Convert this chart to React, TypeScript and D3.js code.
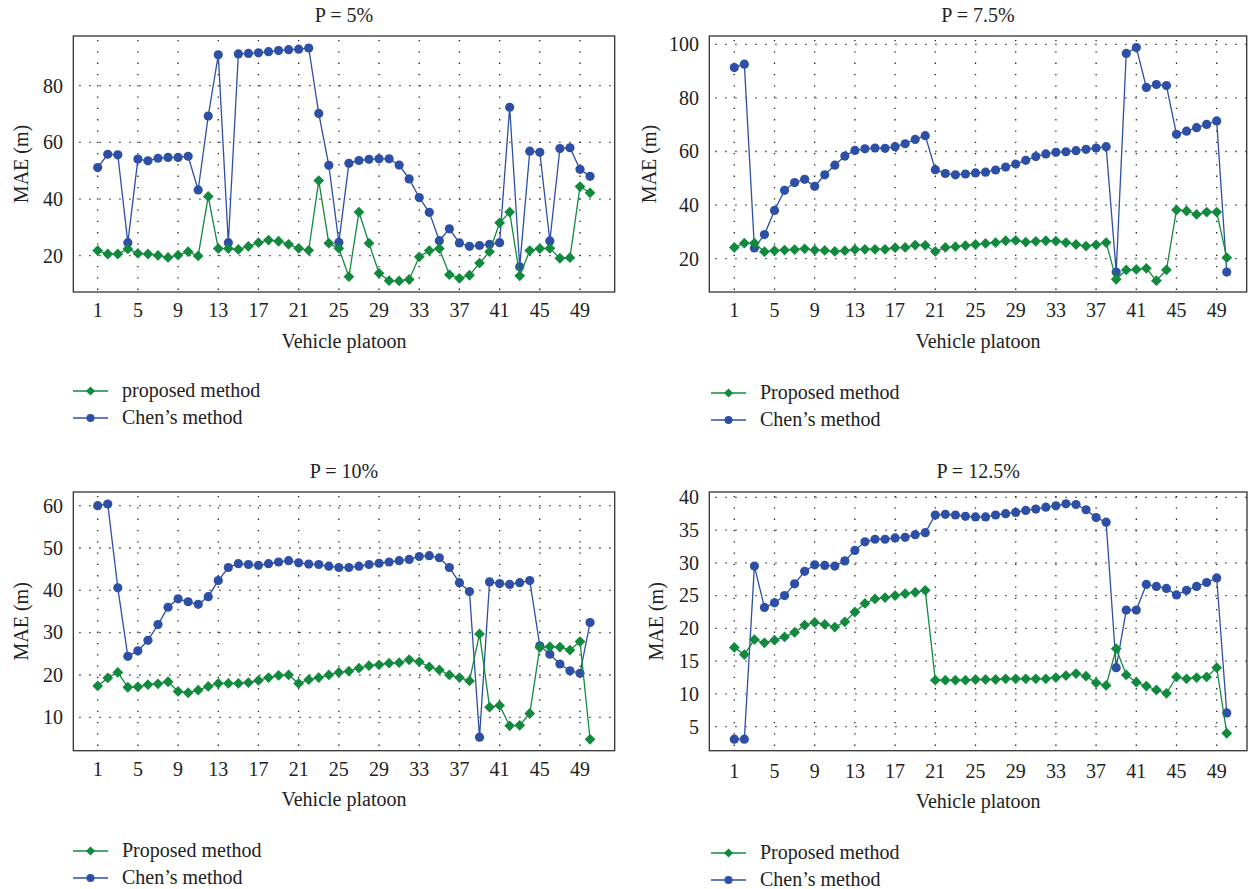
import React from 'react';
import * as d3 from 'd3';

// vehicles 1..50 in every panel
const vehicles = d3.range(1, 51);
const xTickValues = [1, 5, 9, 13, 17, 21, 25, 29, 33, 37, 41, 45, 49];

// P = 5%
const proposed5 = [21.8, 20.6, 20.6, 22.4, 20.8, 20.6, 20.1, 19.4, 20.2, 21.4,
  19.9, 40.9, 22.5, 22.5, 22.2, 23.3, 24.6, 25.5, 25.1, 24.0,
  22.6, 21.9, 46.5, 24.4, 22.6, 12.6, 35.4, 24.4, 13.8, 11.2,
  11.1, 11.6, 19.6, 21.8, 22.5, 13.3, 12.0, 13.1, 17.4, 21.4,
  31.6, 35.4, 12.9, 21.8, 22.5, 22.6, 19.1, 19.3, 44.4, 42.2];
const chen5 = [51.1, 55.8, 55.6, 24.6, 54.1, 53.5, 54.4, 54.7, 54.7, 55.1,
  43.2, 69.3, 90.9, 24.6, 91.2, 91.4, 91.6, 92.0, 92.4, 92.7,
  92.9, 93.3, 70.2, 51.9, 24.7, 52.6, 53.6, 54.0, 54.2, 54.2,
  52.0, 47.1, 40.5, 35.3, 25.3, 29.5, 24.5, 23.3, 23.6, 24.0,
  24.6, 72.4, 16.1, 56.9, 56.5, 25.2, 57.8, 58.1, 50.5, 48.0];

// P = 7.5%
const proposed75 = [24.2, 25.8, 25.8, 22.6, 23.0, 23.2, 23.4, 23.7, 23.2, 23.1,
  22.7, 23.0, 23.4, 23.5, 23.5, 23.5, 24.1, 24.2, 25.1, 25.0,
  22.7, 24.2, 24.5, 24.9, 25.3, 25.7, 26.0, 26.7, 26.8, 26.2,
  26.5, 26.7, 26.6, 26.0, 25.3, 24.7, 25.2, 26.0, 12.3, 15.8,
  16.0, 16.4, 11.8, 15.8, 38.2, 37.8, 36.5, 37.4, 37.4, 20.4];
const chen75 = [91.3, 92.6, 24.0, 29.0, 38.0, 45.5, 48.4, 49.6, 47.0, 51.3,
  54.9, 58.3, 60.4, 61.0, 61.3, 61.2, 61.8, 62.9, 64.5, 65.9,
  53.2, 51.8, 51.3, 51.6, 52.0, 52.3, 53.1, 54.2, 55.3, 56.7,
  58.1, 59.1, 59.7, 59.9, 60.3, 60.8, 61.3, 61.8, 15.0, 96.6,
  98.8, 83.9, 85.0, 84.6, 66.4, 67.6, 68.9, 70.1, 71.4, 15.0];

// P = 10%
const proposed10 = [17.4, 19.3, 20.6, 17.1, 17.2, 17.7, 17.9, 18.4, 16.1, 15.8,
  16.4, 17.3, 18.0, 18.0, 18.0, 18.2, 18.7, 19.4, 19.9, 20.0,
  18.0, 18.9, 19.4, 20.0, 20.6, 20.9, 21.6, 22.2, 22.4, 22.8,
  22.9, 23.6, 23.1, 21.9, 21.2, 20.0, 19.4, 18.6, 29.7, 12.4,
  12.8, 8.0, 8.1, 10.9, 26.5, 26.7, 26.6, 25.9, 27.9, 4.8];
const chen10 = [60.0, 60.4, 40.6, 24.4, 25.7, 28.2, 31.9, 36.0, 38.0, 37.3,
  36.7, 38.5, 42.3, 45.4, 46.3, 46.1, 45.9, 46.3, 46.7, 47.0,
  46.5, 46.2, 46.1, 45.7, 45.4, 45.4, 45.7, 46.1, 46.4, 46.7,
  47.0, 47.3, 48.0, 48.2, 47.7, 45.4, 41.8, 39.7, 5.3, 42.0,
  41.6, 41.4, 41.8, 42.3, 26.9, 24.9, 22.6, 21.0, 20.4, 32.4];

// P = 12.5%
const proposed125 = [17.1, 16.0, 18.3, 17.8, 18.2, 18.7, 19.4, 20.5, 20.9, 20.6,
  20.2, 21.0, 22.5, 23.8, 24.5, 24.7, 25.0, 25.3, 25.5, 25.8,
  12.1, 12.1, 12.1, 12.1, 12.2, 12.2, 12.2, 12.3, 12.3, 12.3,
  12.3, 12.3, 12.5, 12.8, 13.1, 12.7, 11.7, 11.3, 16.9, 12.9,
  11.8, 11.2, 10.6, 10.1, 12.6, 12.3, 12.5, 12.6, 14.0, 4.0];
const chen125 = [3.1, 3.1, 29.5, 23.2, 23.9, 25.0, 26.8, 28.7, 29.7, 29.6,
  29.5, 30.3, 31.9, 33.2, 33.6, 33.6, 33.8, 33.9, 34.3, 34.6,
  37.3, 37.4, 37.3, 37.1, 37.0, 37.0, 37.3, 37.5, 37.7, 38.0,
  38.2, 38.5, 38.7, 39.0, 38.9, 38.1, 36.9, 36.2, 14.0, 22.8,
  22.8, 26.7, 26.4, 26.1, 25.1, 25.8, 26.4, 27.0, 27.7, 7.1];

const GREEN = '#128a3e';
const BLUE = '#2e4fa6';
const FONT = '"Liberation Serif", "DejaVu Serif", serif';

const diamond = d3.symbol(d3.symbolSquare, 58)();

type PanelProps = {
  title: string;
  proposed: number[];
  chen: number[];
  proposedName: string;
  yTicks: number[];
  box: [number, number, number, number];
  xPix: [number, number];
  yMap: [number, number, number, number];
  yLabelX: number;
  tickRight: number;
  titleY: number;
  xTickY: number;
  xLabelY: number;
  legendX: number;
  legendY: number;
};

const Panel = (p: PanelProps) => {
  const [l, t, r, b] = p.box;
  const x = d3.scaleLinear().domain([1, 49]).range(p.xPix);
  const y = d3.scaleLinear().domain([p.yMap[0], p.yMap[1]]).range([p.yMap[2], p.yMap[3]]);
  const line = d3.line<number>().x((_, i) => x(vehicles[i])).y(d => y(d));
  const cx = (l + r) / 2;
  const cy = (t + b) / 2;

  return (
    <g>
      <text x={cx} y={p.titleY} textAnchor="middle" fontSize={20}>{p.title}</text>
      {/* dotted grid */}
      {xTickValues.map(v => (
        <line key={'gx' + v} x1={x(v)} x2={x(v)} y1={t + 4} y2={b} stroke="#222"
          strokeWidth={1.3} strokeDasharray="1.3 10" />
      ))}
      {p.yTicks.map(v => (
        <line key={'gy' + v} x1={l + 6} x2={r} y1={y(v)} y2={y(v)} stroke="#222"
          strokeWidth={1.3} strokeDasharray="1.3 8.7" />
      ))}
      <rect x={l} y={t} width={r - l} height={b - t} fill="none" stroke="#333" strokeWidth={1.3} />
      {xTickValues.map(v => (
        <text key={'tx' + v} x={x(v)} y={p.xTickY} textAnchor="middle" fontSize={20}>{v}</text>
      ))}
      {p.yTicks.map(v => (
        <text key={'ty' + v} x={p.tickRight} y={y(v)} dy="0.34em" textAnchor="end" fontSize={20}>{v}</text>
      ))}
      <text transform={`translate(${p.yLabelX},${cy}) rotate(-90)`} dy="0.34em" textAnchor="middle" fontSize={20}>MAE (m)</text>
      <text x={cx} y={p.xLabelY} textAnchor="middle" fontSize={20}>Vehicle platoon</text>

      <path d={line(p.chen) || ''} fill="none" stroke={BLUE} strokeWidth={1.3} />
      {p.chen.map((v, i) => (
        <circle key={'c' + i} cx={x(vehicles[i])} cy={y(v)} r={4.6} fill={BLUE} />
      ))}
      <path d={line(p.proposed) || ''} fill="none" stroke={GREEN} strokeWidth={1.3} />
      {p.proposed.map((v, i) => (
        <path key={'p' + i} d={diamond || ''} fill={GREEN}
          transform={`translate(${x(vehicles[i])},${y(v)}) rotate(45)`} />
      ))}

      {/* legend */}
      <g transform={`translate(${p.legendX},${p.legendY})`}>
        <line x1={0} x2={35} y1={0} y2={0} stroke={GREEN} strokeWidth={1.4} />
        <path d={diamond || ''} fill={GREEN} transform="translate(17.5,0) rotate(45) scale(0.85)" />
        <text x={49} y={0} dy="0.3em" fontSize={20}>{p.proposedName}</text>
        <line x1={0} x2={35} y1={27} y2={27} stroke={BLUE} strokeWidth={1.4} />
        <circle cx={17.5} cy={27} r={4} fill={BLUE} />
        <text x={49} y={27} dy="0.3em" fontSize={20}>Chen’s method</text>
      </g>
    </g>
  );
};

const App = () => {
  return (
    <svg width={1252} height={889} style={{ position: 'absolute', left: 0, top: 0, background: '#fff' }}
      fontFamily={FONT} fill="#222">
      <Panel title="P = 5%" proposed={proposed5} chen={chen5} proposedName="proposed method"
        yTicks={[20, 40, 60, 80]} box={[73.3, 36, 614.7, 292]} xPix={[97.7, 580]}
        yMap={[20, 80, 255.7, 85.7]} yLabelX={21} tickRight={63} titleY={22}
        xTickY={317} xLabelY={348} legendX={73} legendY={391} />
      <Panel title="P = 7.5%" proposed={proposed75} chen={chen75} proposedName="Proposed method"
        yTicks={[20, 40, 60, 80, 100]} box={[709.3, 36, 1246.7, 292]} xPix={[734.3, 1216.7]}
        yMap={[20, 100, 258.7, 44.3]} yLabelX={649} tickRight={699} titleY={22}
        xTickY={317} xLabelY={348} legendX={711} legendY={393} />
      <Panel title="P = 10%" proposed={proposed10} chen={chen10} proposedName="Proposed method"
        yTicks={[10, 20, 30, 40, 50, 60]} box={[73.3, 492, 614.7, 750.7]} xPix={[97.7, 580]}
        yMap={[10, 60, 717.3, 505.7]} yLabelX={21} tickRight={63} titleY={478}
        xTickY={776} xLabelY={806} legendX={73} legendY={851} />
      <Panel title="P = 12.5%" proposed={proposed125} chen={chen125} proposedName="Proposed method"
        yTicks={[5, 10, 15, 20, 25, 30, 35, 40]} box={[709.3, 492, 1247, 750.7]} xPix={[734.3, 1216.7]}
        yMap={[5, 40, 726.7, 497.3]} yLabelX={656} tickRight={699} titleY={478}
        xTickY={778} xLabelY={808} legendX={711} legendY={853} />
    </svg>
  );
};

export default App;
